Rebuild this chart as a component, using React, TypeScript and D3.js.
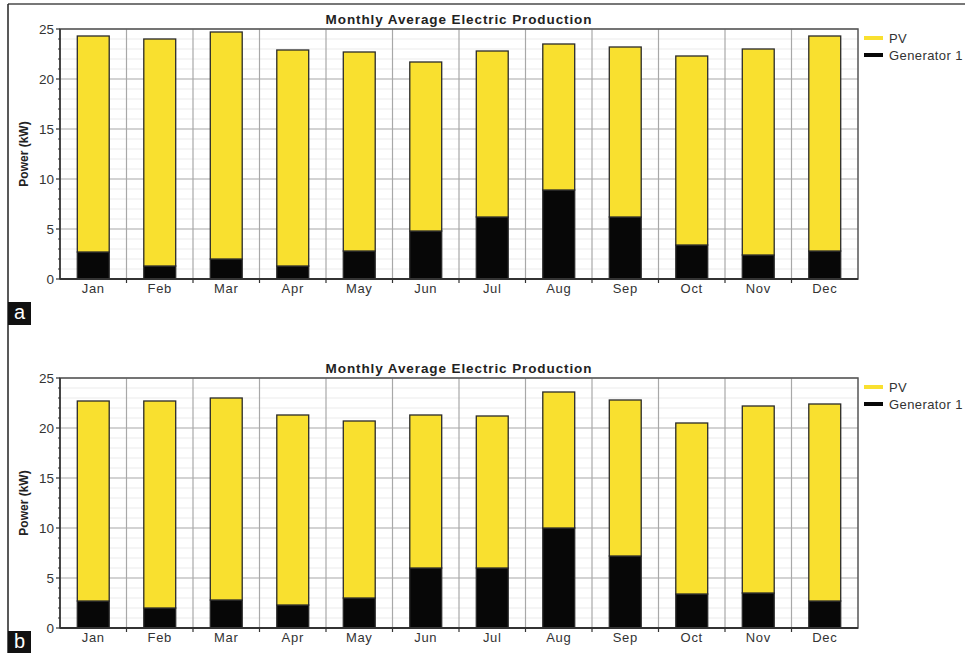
import * as React from "react";
import { scaleBand, scaleLinear, stack, range } from "d3";

const months = ["Jan", "Feb", "Mar", "Apr", "May", "Jun", "Jul", "Aug", "Sep", "Oct", "Nov", "Dec"];

// panel a: generator (bottom) and PV (stacked on top), kW
const genA = [2.7, 1.3, 2.0, 1.3, 2.8, 4.8, 6.2, 8.9, 6.2, 3.4, 2.4, 2.8];
const pvA = [21.6, 22.7, 22.7, 21.6, 19.9, 16.9, 16.6, 14.6, 17.0, 18.9, 20.6, 21.5];

// panel b
const genB = [2.7, 2.0, 2.8, 2.3, 3.0, 6.0, 6.0, 10.0, 7.2, 3.4, 3.5, 2.7];
const pvB = [20.0, 20.7, 20.2, 19.0, 17.7, 15.3, 15.2, 13.6, 15.6, 17.1, 18.7, 19.7];

const yTicks = [0, 5, 10, 15, 20, 25];
const seriesNames = ["PV", "Generator 1"];

const PV_COLOR = "#f9e02f";
const GEN_COLOR = "#070707";
const FONT = "'Liberation Sans', Arial, sans-serif";

interface IPanelProps {
  gen: number[];
  pv: number[];
  top: number;
  label: string;
  labelY: number;
}

const Panel = (props: IPanelProps) => {
  const { gen, pv, top, label, labelY } = props;
  const left = 60;
  const right = 858;
  const plotH = 250;

  const x = scaleBand<string>().domain(months).range([left, right]).padding(0);
  const y = scaleLinear().domain([0, 25]).range([top + plotH, top]);
  const barW = x.bandwidth() * 0.48;

  const rows = months.map((m, i) => ({ month: m, gen: gen[i], pv: pv[i] }));
  const layers = stack<any>().keys(["gen", "pv"])(rows);
  const colors: { [k: string]: string } = { gen: GEN_COLOR, pv: PV_COLOR };

  const minor = range(0, 26, 1).filter((v) => v % 5 !== 0);

  return (
    <g fontFamily={FONT}>
      <text
        x={(left + right) / 2}
        y={top - 5}
        textAnchor="middle"
        fontSize={13.5}
        fontWeight="bold"
        fill="#222"
        letterSpacing={0.9}
      >
        Monthly Average Electric Production
      </text>

      {/* minor grid */}
      {minor.map((v) => (
        <line key={"mn" + v} x1={left} x2={right} y1={y(v)} y2={y(v)} stroke="#ebebeb" strokeWidth={1} />
      ))}
      {/* major grid */}
      {yTicks.map((v) => (
        <line key={"mj" + v} x1={left} x2={right} y1={y(v)} y2={y(v)} stroke="#a8a8a8" strokeWidth={1.2} />
      ))}
      {months.map((m, i) =>
        i === 0 ? null : (
          <line
            key={"vg" + m}
            x1={x(m)!}
            x2={x(m)!}
            y1={top}
            y2={top + plotH}
            stroke="#a8a8a8"
            strokeWidth={1.2}
          />
        ),
      )}

      {/* bars */}
      {layers.map((layer) =>
        layer.map((d, i) => (
          <rect
            key={layer.key + i}
            x={x(months[i])! + (x.bandwidth() - barW) / 2}
            y={y(d[1])}
            width={barW}
            height={y(d[0]) - y(d[1])}
            fill={colors[layer.key]}
            stroke="#2a2a2a"
            strokeWidth={1.3}
          />
        )),
      )}

      {/* frame */}
      <rect x={left} y={top} width={right - left} height={plotH} fill="none" stroke="#555" strokeWidth={1.5} />
      <line x1={left} x2={right} y1={top + plotH} y2={top + plotH} stroke="#333" strokeWidth={1.8} />
      <line x1={left} x2={left} y1={top} y2={top + plotH} stroke="#333" strokeWidth={1.5} />

      {/* y ticks */}
      {minor.map((v) => (
        <line key={"mt" + v} x1={left - 2} x2={left} y1={y(v)} y2={y(v)} stroke="#333" strokeWidth={1} />
      ))}
      {yTicks.map((v) => (
        <g key={"yt" + v}>
          <line x1={left - 4} x2={left} y1={y(v)} y2={y(v)} stroke="#333" strokeWidth={1.2} />
          <text x={left - 6} y={y(v) + 4.5} textAnchor="end" fontSize={13.5} fill="#333">
            {v}
          </text>
        </g>
      ))}
      <text
        transform={`translate(${28},${top + plotH / 2}) rotate(-90)`}
        textAnchor="middle"
        fontSize={12}
        fontWeight="bold"
        fill="#222"
      >
        Power (kW)
      </text>

      {/* x ticks */}
      {months.map((m, i) =>
        i === 0 ? null : (
          <line
            key={"xt" + m}
            x1={x(m)!}
            x2={x(m)!}
            y1={top + plotH}
            y2={top + plotH + 4}
            stroke="#333"
            strokeWidth={1.2}
          />
        ),
      )}
      {months.map((m) => (
        <text
          key={"xl" + m}
          x={x(m)! + x.bandwidth() / 2}
          y={top + plotH + 14}
          textAnchor="middle"
          fontSize={13}
          fill="#333"
          letterSpacing={0.7}
        >
          {m}
        </text>
      ))}

      {/* legend */}
      {seriesNames.map((s, i) => (
        <g key={s}>
          <line
            x1={864}
            x2={883}
            y1={top + 9 + i * 17}
            y2={top + 9 + i * 17}
            stroke={i === 0 ? PV_COLOR : GEN_COLOR}
            strokeWidth={4}
          />
          <text x={889} y={top + 13.5 + i * 17} fontSize={13} fill="#333" letterSpacing={0.4}>
            {s}
          </text>
        </g>
      ))}

      {/* panel letter */}
      <rect x={8} y={labelY} width={23} height={23} fill="#111" />
      <text x={19.5} y={labelY + 17} textAnchor="middle" fontSize={20} fill="#fff">
        {label}
      </text>
    </g>
  );
};

export default function App() {
  return (
    <svg
      width={965}
      height={653}
      style={{ position: "absolute", left: 0, top: 0, background: "#fff" }}
    >
      <rect x={0} y={0} width={965} height={653} fill="#fff" />
      <line x1={8} x2={965} y1={4} y2={4} stroke="#777" strokeWidth={2} />
      <line x1={8} x2={8} y1={4} y2={653} stroke="#222" strokeWidth={1.5} />
      <Panel gen={genA} pv={pvA} top={29} label="a" labelY={302} />
      <Panel gen={genB} pv={pvB} top={378} label="b" labelY={631} />
    </svg>
  );
}
